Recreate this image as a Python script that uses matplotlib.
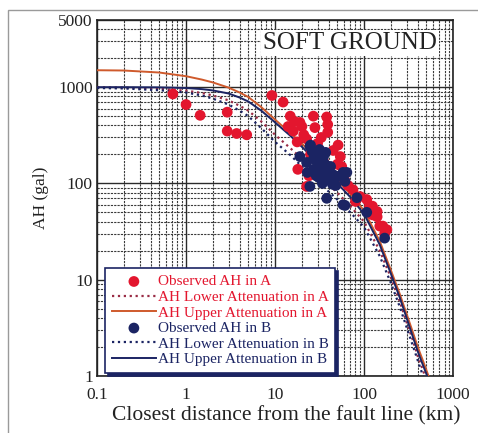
import matplotlib
matplotlib.use('Agg')
import matplotlib.pyplot as plt
from matplotlib.patches import Rectangle
from matplotlib.ticker import FixedLocator, LogLocator, NullFormatter

# ------------------------------------------------------------
# Data
# ------------------------------------------------------------
obs_a_dist = [0.71, 1.0, 1.44, 2.9, 2.9, 3.7, 4.8, 9.2, 12.3,
              14.8, 14, 16, 19, 21, 22.6, 17.7, 18, 20, 26.9, 38, 39, 39,
              51, 54, 56, 50, 22.6, 75, 107, 124, 162, 140,
              90, 115, 125, 150, 80, 180, 140, 30, 33, 25, 45, 28, 35,
              16.5, 24, 60, 66, 170]
obs_a_ah = [850, 660, 510, 550, 350, 330, 320, 820, 700,
            500, 390, 350, 430, 320, 290, 270, 140, 390, 500, 490, 410, 340,
            250, 190, 150, 158, 93, 86, 68, 58, 36, 45,
            73, 58, 47, 36, 65, 33, 51, 260, 300, 200, 220, 380, 170,
            440, 120, 110, 95, 30]

obs_b_dist = [24.6, 31.6, 35, 22.6, 27, 38, 45, 58, 61, 24.6, 38, 58, 83, 107,
              64, 61, 170, 19, 28, 30, 33, 26, 36, 40, 29, 32, 42, 23, 34, 48,
              27, 31, 37, 52, 44, 25]
obs_b_ah = [243, 225, 190, 165, 140, 130, 123, 130, 105, 93, 70, 60, 71, 50,
            130, 59, 27, 190, 200, 170, 150, 215, 160, 110, 120, 135, 150, 130,
            100, 95, 180, 115, 210, 118, 98, 250]

curve_dist = [0.1, 0.2, 0.5, 1, 1.5, 2, 3, 4, 5, 7, 10, 15, 20, 30, 50, 70, 100,
              150, 200, 250, 300, 350, 400, 450, 500, 550]
upper_a = [1500, 1490, 1420, 1300, 1200, 1120, 990, 880, 790, 620, 460, 330, 260, 175, 108, 78, 52,
           25, 12.5, 7.2, 4.4, 2.9, 2.0, 1.5, 1.15, 0.9]
upper_b = [1000, 1000, 995, 980, 955, 925, 860, 780, 710, 570, 430, 310, 240, 165, 100, 72, 48,
           23, 11.5, 6.6, 4.0, 2.6, 1.8, 1.35, 1.05, 0.82]
lower_a = [1000, 990, 960, 920, 870, 820, 730, 640, 570, 440, 320, 230, 180, 125, 80, 58, 40,
           20, 10.5, 6.0, 3.6, 2.4, 1.6, 1.2, 0.9, 0.7]
lower_b = [980, 970, 930, 880, 820, 760, 660, 570, 500, 375, 270, 195, 150, 105, 68, 50, 35,
           17.5, 9.2, 5.3, 3.2, 2.1, 1.45, 1.05, 0.8, 0.62]

x_ticks = [0.1, 1, 10, 100, 1000]
x_ticklabels = ['0.1', '1', '10', '100', '1000']
y_ticks = [1, 10, 100, 1000, 5000]
y_ticklabels = ['1', '10', '100', '1000', '5000']

red = '#e3162e'
navy = '#1b2463'
orange = '#cf5a2c'

plt.rcParams['font.family'] = ['Liberation Serif', 'DejaVu Serif']

fig = plt.figure(figsize=(4.78, 4.33), dpi=100)
ax = fig.add_axes([0.203, 0.132, 0.745, 0.822])

# frame around whole figure
fig.patches.append(Rectangle((0.017, -0.01), 0.99, 0.988, transform=fig.transFigure,
                             fill=False, edgecolor='#9a9a9a', lw=1.0))

ax.set_xscale('log')
ax.set_yscale('log')
ax.set_xlim(0.1, 1000)
ax.set_ylim(1, 5000)

ax.grid(True, which='major', color='#2a2a2a', lw=1.0, ls='-')
ax.grid(True, which='minor', color='#3a3a3a', lw=0.8, ls=(0, (2, 1)))
ax.set_axisbelow(True)

ax.plot(curve_dist, lower_a, color='#9a2c45', lw=1.6, ls=':', label='AH Lower Attenuation in A', zorder=3)
ax.plot(curve_dist, upper_a, color=orange, lw=1.4, ls='-', label='AH Upper Attenuation in A', zorder=3)
ax.plot(curve_dist, lower_b, color=navy, lw=1.6, ls=':', label='AH Lower Attenuation in B', zorder=3)
ax.plot(curve_dist, upper_b, color=navy, lw=1.4, ls='-', label='AH Upper Attenuation in B', zorder=3)

h_a = ax.scatter(obs_a_dist, obs_a_ah, s=60, color=red, edgecolors='none',
                 label='Observed AH in A', zorder=4)
h_b = ax.scatter(obs_b_dist, obs_b_ah, s=60, color=navy, edgecolors='none',
                 label='Observed AH in B', zorder=5)

lines = ax.get_lines()
handles = [h_a, lines[0], lines[1], h_b, lines[2], lines[3]]
labels = [h.get_label() for h in handles]
leg = ax.legend(handles, labels, loc='lower left', bbox_to_anchor=(0.022, 0.008),
                fontsize=11, handlelength=2.9, handletextpad=0.1, labelspacing=0.12,
                borderpad=0.45, borderaxespad=0, fancybox=False, framealpha=1,
                shadow={'color': navy, 'alpha': 1})
leg.get_frame().set_edgecolor(navy)
leg.get_frame().set_linewidth(1.2)
for txt, c in zip(leg.get_texts(), [red, red, red, navy, navy, navy]):
    txt.set_color(c)
leg.set_zorder(6)

ax.text(0.955, 0.965, 'SOFT GROUND', transform=ax.transAxes, ha='right', va='top',
        fontsize=18, color='#222222', zorder=7,
        bbox=dict(facecolor='white', edgecolor='none', pad=1.5))

ax.xaxis.set_major_locator(FixedLocator(x_ticks))
ax.set_xticklabels(x_ticklabels)
ax.yaxis.set_major_locator(FixedLocator(y_ticks))
ax.set_yticklabels(y_ticklabels)
ax.xaxis.set_minor_locator(LogLocator(base=10, subs=range(2, 10)))
ax.yaxis.set_minor_locator(LogLocator(base=10, subs=range(2, 10)))
ax.xaxis.set_minor_formatter(NullFormatter())
ax.yaxis.set_minor_formatter(NullFormatter())
ax.tick_params(which='both', length=0, labelsize=12.5, colors='#222222')
ax.tick_params(axis='x', pad=8)
ax.tick_params(axis='y', pad=3)

ax.set_xlabel('Closest distance from the fault line (km)', fontsize=15.5, color='#222222')
ax.xaxis.set_label_coords(0.53, -0.085)
ax.set_ylabel('AH (gal)', fontsize=12.5, color='#222222', labelpad=7)

for s in ax.spines.values():
    s.set_color('#222222')
    s.set_linewidth(1.2)

fig.savefig('out.png', dpi=100)
